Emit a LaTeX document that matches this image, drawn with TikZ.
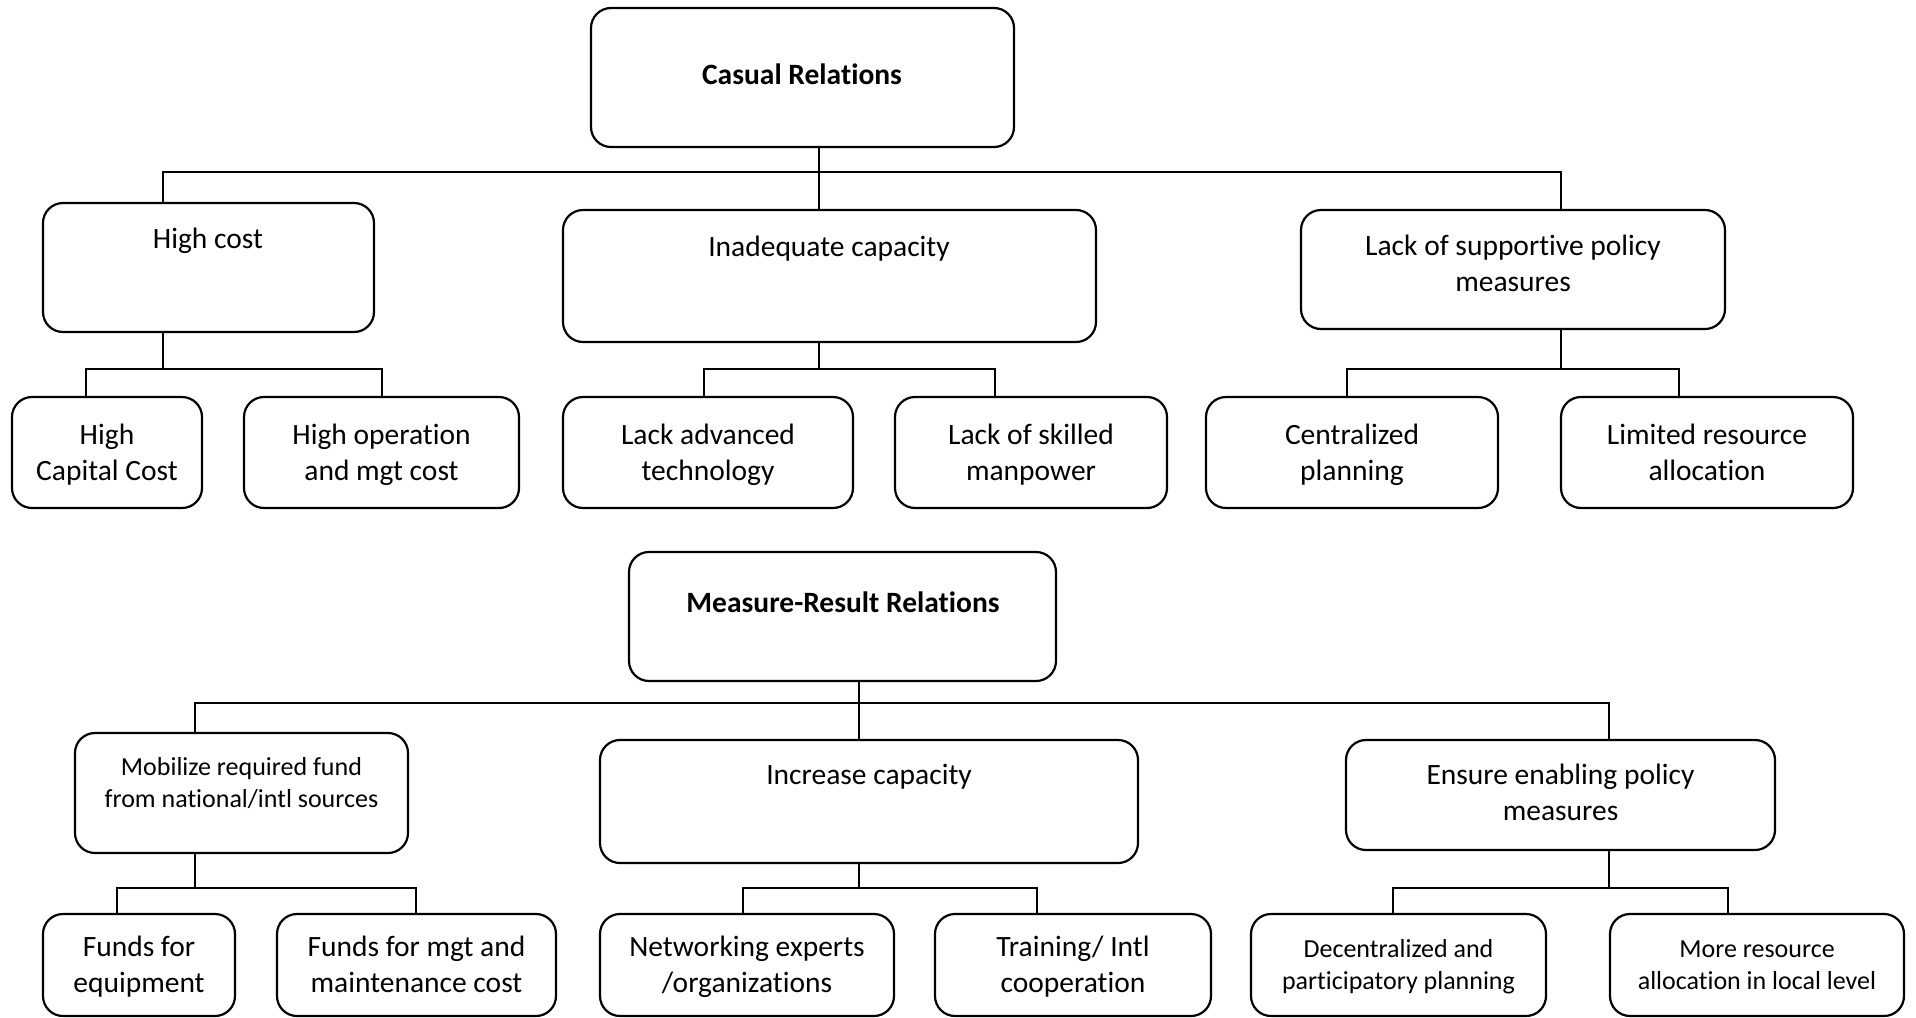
\documentclass[tikz,border=0pt]{standalone}
\usepackage{fontspec}
\setmainfont[Ligatures=NoCommon]{Carlito}
\newcommand{\bx}[7][]{%
  \pgfmathsetmacro\myBW{(#5-#3)*0.5}%
  \pgfmathsetmacro\myBH{(#6-#4)*0.5}%
  \pgfmathsetmacro\myBX{(#3+#5)/2}%
  \pgfmathsetmacro\myBY{(#4+#6)/2}%
  \node[box,minimum width=\myBW pt,minimum height=\myBH pt,#1] (#2) at (\myBX,\myBY) {#7};}
\newcommand{\sline}{\rule[-0.23\baselineskip]{0pt}{\baselineskip}}
\begin{document}
\begin{tikzpicture}[x=0.5pt,y=-0.5pt,
  box/.style={draw=black,line width=1.1pt,rounded corners=10pt,inner sep=0pt,align=center,font=\fontsize{14.75}{18}\selectfont},
  smallfont/.style={font=\fontsize{13}{16}\selectfont},
  txt/.style={inner sep=0pt,align=center,font=\fontsize{14.75}{18}\selectfont},
  conn/.style={draw=black,line width=1pt}]
\useasboundingbox (0,0) rectangle (1916,1017);

% ---------- Casual relations ----------
\bx{CR}{591}{8}{1014}{147}{}
\node[txt,font=\fontsize{14.75}{18}\selectfont\bfseries] (CRt) at (802,75) {\sline Casual Relations};

\bx{HC}{43}{203}{374}{332}{}
\node[txt] (HCt) at (208,239) {\sline High cost};
\bx{IC}{563}{210}{1096}{342}{}
\node[txt] (ICt) at (829,247) {\sline Inadequate capacity};
\bx{LS}{1301}{210}{1725}{329}{}
\node[txt] (LSt) at (1513,263.5) {\sline Lack of supportive policy\\\sline measures};

\bx{HCC}{12}{397}{202}{508}{\sline High\\\sline Capital Cost}
\bx{HOM}{244}{397}{519}{508}{\sline High operation\\\sline and mgt cost}
\bx{LAT}{563}{397}{853}{508}{\sline Lack advanced\\\sline technology}
\bx{LSM}{895}{397}{1167}{508}{\sline Lack of skilled\\\sline manpower}
\bx{CP}{1206}{397}{1498}{508}{\sline Centralized\\\sline planning}
\bx{LRA}{1561}{397}{1853}{508}{\sline Limited resource\\\sline allocation}

\coordinate (b1L) at (163,172);
\coordinate (b1M) at (819,172);
\coordinate (b1R) at (1561,172);
\draw[conn] (CR.south -| b1M) -- (IC.north -| b1M);
\draw[conn] (HC.north -| b1L) -- (b1L) -- (b1R) -- (LS.north -| b1R);

\coordinate (h1L) at (86,369);
\coordinate (h1R) at (382,369);
\draw[conn] (HC.south -| b1L) -- (b1L |- h1L);
\draw[conn] (HCC.north -| h1L) -- (h1L) -- (h1R) -- (HOM.north -| h1R);

\coordinate (h2L) at (704,369);
\coordinate (h2R) at (995,369);
\draw[conn] (IC.south -| b1M) -- (b1M |- h2L);
\draw[conn] (LAT.north -| h2L) -- (h2L) -- (h2R) -- (LSM.north -| h2R);

\coordinate (h3L) at (1347,369);
\coordinate (h3R) at (1679,369);
\draw[conn] (LS.south -| b1R) -- (b1R |- h3L);
\draw[conn] (CP.north -| h3L) -- (h3L) -- (h3R) -- (LRA.north -| h3R);

% ---------- Measure-result relations ----------
\bx{MR}{629}{552}{1056}{681}{}
\node[txt,font=\fontsize{14.75}{18}\selectfont\bfseries] (MRt) at (843,603) {\sline Measure-Result Relations};

\bx{MO}{75}{733}{408}{853}{}
\node[txt,smallfont] (MOt) at (241.5,783) {\sline Mobilize required fund\\\sline from national/intl sources};
\bx{INC}{600}{740}{1138}{863}{}
\node[txt] (INCt) at (869,775) {\sline Increase capacity};
\bx{EN}{1346}{740}{1775}{850}{}
\node[txt] (ENt) at (1560.5,793) {\sline Ensure enabling policy\\\sline measures};

\bx{FE}{43}{914}{235}{1016}{\sline Funds for\\\sline equipment}
\bx{FM}{277}{914}{556}{1016}{\sline Funds for mgt and\\\sline maintenance cost}
\bx{NE}{600}{914}{894}{1016}{\sline Networking experts\\\sline /organizations}
\bx{TI}{935}{914}{1211}{1016}{\sline Training/ Intl\\\sline cooperation}
\bx[smallfont]{DP}{1251}{914}{1546}{1016}{\sline Decentralized and\\\sline participatory planning}
\bx[smallfont]{MRA}{1610}{914}{1904}{1016}{\sline More resource\\\sline allocation in local level}

\coordinate (b2L) at (195,703);
\coordinate (b2M) at (859,703);
\coordinate (b2R) at (1609,703);
\draw[conn] (MR.south -| b2M) -- (INC.north -| b2M);
\draw[conn] (MO.north -| b2L) -- (b2L) -- (b2R) -- (EN.north -| b2R);

\coordinate (g1L) at (117,888);
\coordinate (g1R) at (416,888);
\draw[conn] (MO.south -| b2L) -- (b2L |- g1L);
\draw[conn] (FE.north -| g1L) -- (g1L) -- (g1R) -- (FM.north -| g1R);

\coordinate (g2L) at (743,888);
\coordinate (g2R) at (1037,888);
\draw[conn] (INC.south -| b2M) -- (b2M |- g2L);
\draw[conn] (NE.north -| g2L) -- (g2L) -- (g2R) -- (TI.north -| g2R);

\coordinate (g3L) at (1393,888);
\coordinate (g3R) at (1728,888);
\draw[conn] (EN.south -| b2R) -- (b2R |- g3L);
\draw[conn] (DP.north -| g3L) -- (g3L) -- (g3R) -- (MRA.north -| g3R);
\end{tikzpicture}
\end{document}
